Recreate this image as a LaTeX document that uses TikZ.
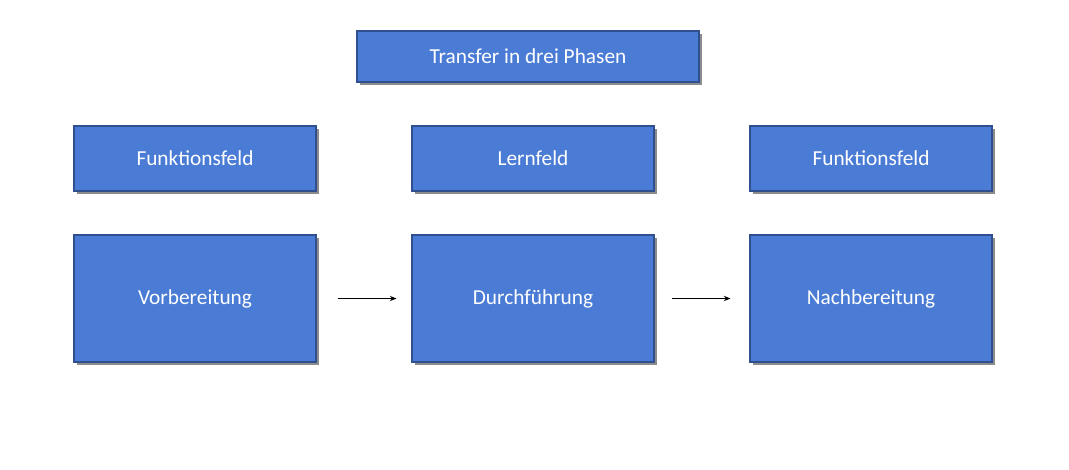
\documentclass[tikz,border=0pt]{standalone}
\usepackage{fontspec}
\setmainfont{Carlito}
\usetikzlibrary{shadows,arrows.meta}
\definecolor{boxfill}{HTML}{4A7BD5}
\definecolor{boxline}{HTML}{2F4F8F}
\begin{document}
\begin{tikzpicture}[x=0.75pt,y=-0.75pt,
  bx/.style={draw=boxline,line width=0.8pt,fill=boxfill,text=white,
    font=\fontsize{16pt}{19pt}\selectfont,inner sep=0pt,
    drop shadow={shadow xshift=2pt,shadow yshift=-2pt,opacity=0.45,fill=black}},
  arr/.style={-{Stealth[length=5pt,width=4pt]},line width=0.8pt}]
\useasboundingbox[fill=white] (0,0) rectangle (1069,469);
\node[bx,minimum width=342*0.75pt,minimum height=51*0.75pt] (t) at (528,56.5) {Transfer in drei Phasen};
\node[bx,minimum width=242*0.75pt,minimum height=65*0.75pt] (f1) at (195,158.5) {Funktionsfeld};
\node[bx,minimum width=242*0.75pt,minimum height=65*0.75pt] (l) at (533,158.5) {Lernfeld};
\node[bx,minimum width=242*0.75pt,minimum height=65*0.75pt] (f2) at (871,158.5) {Funktionsfeld};
\node[bx,minimum width=242*0.75pt,minimum height=127*0.75pt] (v) at (195,298.5) {Vorbereitung};
\node[bx,minimum width=242*0.75pt,minimum height=127*0.75pt] (d) at (533,298.5) {Durchführung};
\node[bx,minimum width=242*0.75pt,minimum height=127*0.75pt] (n) at (871,298.5) {Nachbereitung};
\draw[arr,shorten <=15.75pt,shorten >=11.25pt] (v.east) -- (d.west);
\draw[arr,shorten <=12.75pt,shorten >=14.25pt] (d.east) -- (n.west);
\end{tikzpicture}
\end{document}
